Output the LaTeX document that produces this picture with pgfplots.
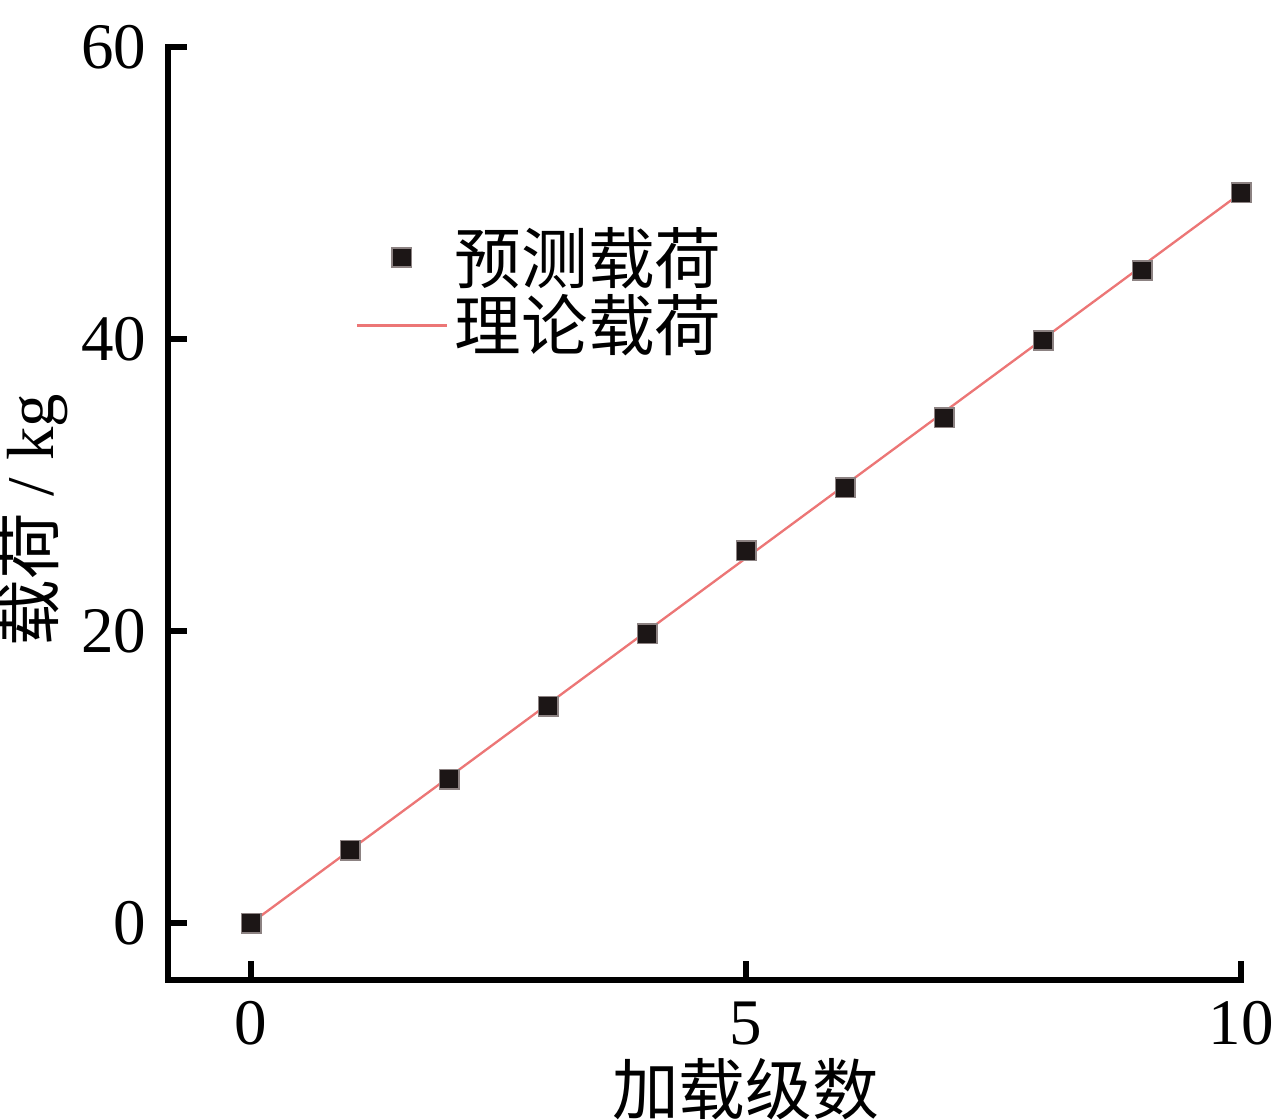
\documentclass[border=0pt]{standalone}
\usepackage{pgfplots}
\pgfplotsset{compat=1.18}
\usepackage{fontspec}
\setmainfont{Liberation Serif}
\newfontfamily\cjk{Noto Sans CJK SC}
\definecolor{linered}{RGB}{236,118,118}
\definecolor{markedge}{RGB}{140,130,130}
\definecolor{markfill}{RGB}{28,22,22}
\begin{document}
\begin{tikzpicture}
\begin{axis}[
  scale only axis,
  width=321.9pt, height=279.9pt,
  xmin=-0.84, xmax=10, ymin=-3.9, ymax=60,
  axis line style={draw=none},
  xtick pos=bottom, ytick pos=left,
  xtick={0,5,10}, ytick={0,20,40,60},
  tick align=inside,
  major tick length=5.6pt,
  every tick/.style={line width=1.7pt, black},
  tick label style={font=\fontsize{19.5}{21}\selectfont},
  xticklabel style={yshift=-3pt},
  yticklabel style={xshift=-3pt},
  /pgf/number format/assume math mode=true,
  xlabel={\cjk\fontsize{20}{22}\selectfont 加载级数},
  ylabel={{\cjk\fontsize{20}{22}\selectfont 载荷}\fontsize{20}{22}\selectfont\ /\ kg},
  xlabel style={yshift=3pt, xshift=12.3pt},
  ylabel style={yshift=-3pt, xshift=-2pt},
  legend style={draw=none, fill=none, at={(0.165,0.822)}, anchor=north west,
    font=\cjk\fontsize{20}{24}\selectfont, row sep=-2pt},
  legend cell align=left,
  legend image code/.code={\draw[mark repeat=2,mark phase=2] plot coordinates {(0pt,0pt) (13.5pt,0pt) (27pt,0pt)};},
  clip=false,
]
\draw[line width=1.7pt, black, line cap=rect] (rel axis cs:0,1) -- (rel axis cs:0,0) -- (rel axis cs:1,0);
\addplot[only marks, mark=square*, mark size=2.9pt, mark options={draw=markedge, fill=markfill, line width=0.5pt}]
coordinates {(0,0) (1,5.0) (2,9.86) (3,14.86) (4,19.8) (5,25.5) (6,29.8) (7,34.6) (8,39.9) (9,44.7) (10,50.0)};
\addlegendentry{预测载荷}
\addplot[linered, line width=0.7pt, no marks]
coordinates {(0,0) (10,50)};
\addlegendentry{理论载荷}
\end{axis}
\pgfresetboundingbox
\path[use as bounding box] (-50.4pt,-42pt) rectangle (332.1pt,294pt);
\end{tikzpicture}
\end{document}
